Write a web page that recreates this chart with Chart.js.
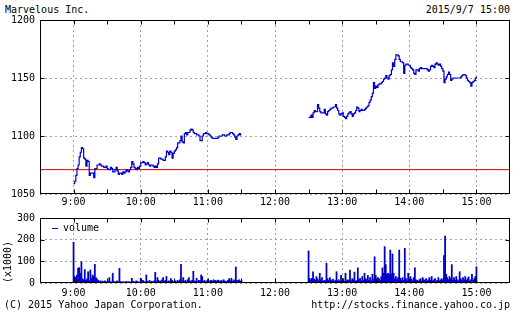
<!DOCTYPE html>
<html>
<head>
<meta charset="utf-8">
<script src="https://cdn.jsdelivr.net/npm/chart.js@4"></script>
<style>
  body { margin: 0; background: #fff; }
  #wrap { position: relative; width: 523px; height: 317px; background: #fff;
          font-family: 'DejaVu Sans Mono', monospace; font-size: 10px; color: #000; }
  .txt { position: absolute; white-space: pre; line-height: 12px; }
  canvas { position: absolute; left: 0; }
</style>
</head>
<body>
<div id="wrap">
  <div class="txt" style="left:5px; top:4px;">Marvelous Inc.</div>
  <div class="txt" style="right:13px; top:4px;">2015/9/7 15:00</div>
  <canvas id="priceChart" width="523" height="210" style="top:0;"></canvas>
  <canvas id="volChart" width="523" height="95" style="top:205px;"></canvas>
  <div class="txt" style="left:4px; top:299px;">(C) 2015 Yahoo Japan Corporation.</div>
  <div class="txt" style="right:13px; top:299px;">http://stocks.finance.yahoo.co.jp</div>
</div>
<script>
// minutes since midnight
var amStart = 540;   // 9:00
var pmStart = 750;   // 12:30
var xMin = 510, xMax = 930;
var prevClose = 1071;

// price per minute, 9:00 - 11:30
var priceAm = [
  1059, 1061, 1066, 1072, 1075, 1082, 1086, 1090, 1089, 1081,
  1080, 1074, 1079, 1078, 1066, 1068, 1068, 1068, 1064, 1072,
  1072, 1075, 1075, 1076, 1075, 1074, 1074, 1073, 1073, 1074,
  1072, 1071, 1071, 1073, 1072, 1069, 1069, 1071, 1073, 1070,
  1067, 1068, 1068, 1067, 1069, 1068, 1069, 1071, 1070, 1069,
  1071, 1073, 1078, 1076, 1073, 1072, 1071, 1073, 1072, 1074,
  1077, 1077, 1078, 1077, 1075, 1076, 1077, 1075, 1074, 1075,
  1075, 1074, 1073, 1074, 1073, 1076, 1081, 1081, 1080, 1080,
  1079, 1079, 1082, 1087, 1086, 1084, 1087, 1086, 1081, 1085,
  1087, 1088, 1090, 1094, 1094, 1096, 1100, 1095, 1094, 1102,
  1103, 1101, 1103, 1103, 1105, 1106, 1105, 1103, 1102, 1102,
  1101, 1101, 1100, 1096, 1096, 1100, 1102, 1102, 1103, 1102,
  1102, 1101, 1100, 1099, 1098, 1098, 1098, 1098, 1098, 1099,
  1100, 1100, 1100, 1101, 1101, 1100, 1100, 1101, 1101, 1102,
  1103, 1103, 1102, 1101, 1099, 1097, 1100, 1101, 1102, 1101,
  1101
];

// price per minute, 12:30 - 15:00
var pricePm = [
  1116, 1116, 1118, 1116, 1120, 1122, 1121, 1121, 1127, 1124,
  1121, 1120, 1120, 1120, 1123, 1119, 1118, 1121, 1122, 1123,
  1124, 1124, 1125, 1125, 1127, 1124, 1122, 1119, 1118, 1119,
  1120, 1117, 1116, 1115, 1117, 1119, 1120, 1121, 1119, 1117,
  1119, 1120, 1122, 1125, 1124, 1121, 1122, 1123, 1122, 1122,
  1123, 1124, 1125, 1126, 1129, 1131, 1134, 1137, 1146, 1141,
  1143, 1142, 1144, 1145, 1145, 1146, 1147, 1149, 1150, 1152,
  1150, 1149, 1152, 1153, 1157, 1163, 1160, 1166, 1170, 1170,
  1169, 1166, 1164, 1164, 1163, 1154, 1161, 1162, 1162, 1161,
  1161, 1159, 1158, 1157, 1154, 1153, 1157, 1157, 1156, 1158,
  1159, 1158, 1158, 1158, 1158, 1158, 1157, 1156, 1157, 1160,
  1161, 1160, 1159, 1162, 1163, 1162, 1161, 1162, 1160, 1158,
  1156, 1146, 1149, 1151, 1153, 1155, 1153, 1148, 1149, 1150,
  1150, 1150, 1150, 1150, 1150, 1150, 1151, 1152, 1153, 1153,
  1152, 1150, 1148, 1147, 1146, 1143, 1146, 1147, 1148, 1150,
  1151
];

// volume per minute (x1000)
var volAm = [
  188, 30, 25, 37, 68, 71, 45, 98, 20, 15,
  62, 12, 18, 52, 10, 60, 22, 37, 30, 86,
  25, 18, 12, 8, 10, 6, 9, 5, 10, 7,
  4, 8, 25, 6, 5, 45, 8, 3, 6, 10,
  5, 68, 7, 4, 6, 5, 3, 8, 4, 6,
  5, 3, 22, 8, 6, 4, 10, 7, 5, 3,
  22, 8, 12, 6, 4, 37, 9, 5, 12, 6,
  8, 4, 10, 49, 8, 25, 12, 6, 10, 15,
  25, 8, 12, 30, 6, 10, 8, 20, 12, 6,
  8, 10, 5, 12, 8, 15, 86, 10, 25, 8,
  12, 6, 15, 25, 10, 8, 12, 54, 10, 8,
  22, 6, 12, 10, 37, 30, 8, 12, 5, 10,
  15, 6, 10, 12, 8, 15, 10, 12, 8, 14,
  10, 8, 12, 6, 15, 10, 6, 8, 12, 20,
  10, 22, 8, 15, 10, 74, 12, 10, 15, 8,
  12
];
var volPm = [
  148, 20, 15, 22, 52, 18, 12, 30, 20, 10,
  45, 15, 25, 8, 12, 10, 91, 20, 12, 25,
  15, 10, 18, 8, 12, 52, 10, 15, 8, 35,
  12, 20, 8, 45, 10, 15, 12, 60, 10, 20,
  15, 50, 8, 12, 70, 15, 22, 10, 30, 12,
  45, 20, 15, 35, 12, 25, 10, 40, 18, 121,
  35, 15, 25, 20, 12, 30, 70, 45, 168, 85,
  40, 45, 40, 152, 42, 134, 45, 20, 30, 15,
  25, 152, 22, 15, 25, 12, 160, 20, 15, 45,
  12, 30, 18, 10, 25, 70, 15, 12, 8, 15,
  20, 10, 25, 15, 12, 20, 10, 15, 25, 12,
  30, 10, 15, 20, 8, 12, 25, 10, 15, 20,
  12, 126, 217, 40, 25, 15, 30, 20, 85, 15,
  25, 12, 30, 15, 10, 52, 20, 12, 25, 15,
  30, 12, 20, 28, 10, 15, 40, 12, 20, 30,
  75
];

Chart.defaults.font.family = "'DejaVu Sans Mono', monospace";
Chart.defaults.font.size = 10;
Chart.defaults.color = '#000';

var BLUE = '#0000cc';
var GRID = '#a0a0a0';
var DASH = [2, 3];

function toPoints(start, arr) {
  var out = [];
  for (var i = 0; i < arr.length; i++) out.push({ x: start + i, y: arr[i] });
  return out;
}

var pricePoints = toPoints(amStart, priceAm)
  .concat([{ x: 700, y: null }])
  .concat(toPoints(pmStart, pricePm));
var volPoints = toPoints(amStart, volAm).concat(toPoints(pmStart, volPm));

// frame around the plot area with small inward ticks on all sides
var framePlugin = {
  id: 'frame',
  afterDraw: function (chart) {
    var ctx = chart.ctx, a = chart.chartArea;
    var L = Math.round(a.left) + 0.5, R = Math.round(a.right) - 0.5;
    var T = Math.round(a.top) + 0.5, B = Math.round(a.bottom) - 0.5;
    ctx.save();
    ctx.strokeStyle = '#000';
    ctx.lineWidth = 1;
    ctx.strokeRect(L, T, R - L, B - T);
    ctx.beginPath();
    chart.scales.x.ticks.forEach(function (t) {
      var px = Math.round(chart.scales.x.getPixelForValue(t.value)) + 0.5;
      if (px <= L + 1 || px >= R - 1) return;
      ctx.moveTo(px, T); ctx.lineTo(px, T + 4);
      ctx.moveTo(px, B); ctx.lineTo(px, B - 4);
    });
    chart.scales.y.ticks.forEach(function (t) {
      var py = Math.round(chart.scales.y.getPixelForValue(t.value)) + 0.5;
      if (py <= T + 1 || py >= B - 1) return;
      ctx.moveTo(L, py); ctx.lineTo(L + 4, py);
      ctx.moveTo(R, py); ctx.lineTo(R - 4, py);
    });
    ctx.stroke();
    ctx.restore();
  }
};

// "— volume" key inside the volume panel
var volKey = {
  id: 'volKey',
  afterDraw: function (chart) {
    var ctx = chart.ctx, a = chart.chartArea;
    var x = Math.round(a.left) + 12, y = Math.round(a.top) + 10.5;
    ctx.save();
    ctx.strokeStyle = BLUE;
    ctx.lineWidth = 1;
    ctx.beginPath();
    ctx.moveTo(x, y); ctx.lineTo(x + 6, y);
    ctx.stroke();
    ctx.fillStyle = '#000';
    ctx.font = "10px 'DejaVu Sans Mono', monospace";
    ctx.textBaseline = 'middle';
    ctx.fillText(chart.data.datasets[0].label, x + 11, y);
    ctx.restore();
  }
};

function xAxis(opt) {
  return {
    type: 'linear', min: xMin, max: xMax, offset: false,
    afterFit: function (s) { s.height = opt.h; },
    border: { display: false, dash: DASH },
    grid: {
      drawTicks: false, offset: false,
      color: function (c) { return c.tick && c.tick.value % 60 === 0 ? GRID : 'rgba(0,0,0,0)'; }
    },
    ticks: {
      stepSize: 30, autoSkip: false, maxRotation: 0, padding: opt.p,
      callback: function (v) { return v % 60 === 0 ? (v / 60) + ':00' : ''; }
    }
  };
}

function plain(v) { return String(v); }

new Chart(document.getElementById('priceChart'), {
  type: 'line',
  data: {
    datasets: [
      {
        data: pricePoints, borderColor: BLUE, borderWidth: 1.2,
        stepped: true, pointRadius: 0, spanGaps: false, order: 0
      },
      {
        data: [{ x: xMin, y: prevClose }, { x: xMax, y: prevClose }],
        borderColor: '#cc0000', borderWidth: 1, pointRadius: 0, order: 1
      }
    ]
  },
  options: {
    responsive: false, animation: false, devicePixelRatio: 1,
    layout: { padding: { top: 20, right: 13, left: 0, bottom: 0 } },
    plugins: { legend: { display: false }, tooltip: { enabled: false } },
    scales: {
      x: xAxis({ h: 16, p: 2 }),
      y: {
        min: 1050, max: 1200,
        afterFit: function (s) { s.width = 40; },
        border: { display: false, dash: DASH },
        grid: { drawTicks: false, color: GRID },
        ticks: { stepSize: 50, padding: 5, callback: plain }
      }
    }
  },
  plugins: [framePlugin]
});

new Chart(document.getElementById('volChart'), {
  type: 'bar',
  data: {
    datasets: [{
      label: 'volume', data: volPoints, backgroundColor: BLUE,
      borderWidth: 0, barPercentage: 1, categoryPercentage: 1
    }]
  },
  options: {
    responsive: false, animation: false, devicePixelRatio: 1,
    layout: { padding: { top: 13, right: 13, left: 0, bottom: 0 } },
    plugins: { legend: { display: false }, tooltip: { enabled: false } },
    scales: {
      x: xAxis({ h: 17, p: 4 }),
      y: {
        min: 0, max: 300,
        afterFit: function (s) { s.width = 40; },
        border: { display: false, dash: DASH },
        grid: { drawTicks: false, color: GRID },
        ticks: { stepSize: 100, padding: 5, callback: plain },
        title: { display: true, text: '(x1000)', align: 'start', padding: { top: 2, bottom: 0 } }
      }
    }
  },
  plugins: [framePlugin, volKey]
});
</script>
</body>
</html>
